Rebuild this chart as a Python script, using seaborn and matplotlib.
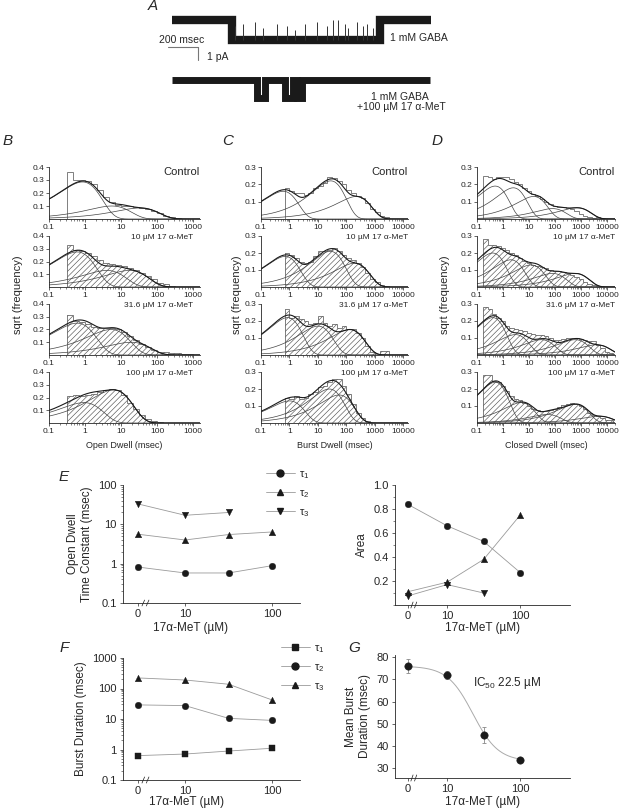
"""
Single-channel figure: example traces (A), dwell-time histograms (B-D)
and time constants / areas / burst duration vs 17a-MeT (E-G).
"""

import numpy as np
import pandas as pd
import matplotlib
matplotlib.use("Agg")
import matplotlib.pyplot as plt
import seaborn as sns
from matplotlib.lines import Line2D
from matplotlib.ticker import FixedLocator, LogLocator, NullFormatter, MultipleLocator

sns.set_theme(style="ticks")
plt.rcParams["font.family"] = ["Liberation Sans", "DejaVu Sans"]
plt.rcParams["mathtext.default"] = "regular"
plt.rcParams["hatch.linewidth"] = 0.45
plt.rcParams["axes.linewidth"] = 0.6

W, H = 620, 809

# ---- A: example traces (event times in msec, levels in pA) ----
TRACE1_EDGES = [0, 400, 1387, 1727]
TRACE1_LEVELS = [0.0, -1.5, 0.0]
FLICKER_T = [420, 473, 553, 607, 700, 767, 820, 887, 967, 1033,
             1073, 1107, 1153, 1173, 1233, 1273, 1300, 1340]
FLICKER_FRAC = [0.7, 0.8, 0.9, 0.6, 0.8, 0.7, 0.5, 0.8, 0.9, 0.7,
                1.0, 1.0, 0.8, 0.6, 0.9, 0.7, 0.8, 0.6]
TRACE2_EDGES = [0, 567, 620, 753, 807, 833, 867, 1720]
TRACE2_LEVELS = [0.0, -1.4, 0.0, -1.4, 0.0, -1.4, 0.0]

ROW_LABELS = ["Control", "10 µM 17 α-MeT", "31.6 µM 17 α-MeT", "100 µM 17 α-MeT"]

# ---- B: open dwell histograms (sqrt frequency per log bin) ----
OPEN_HIST = [
    [0.36, 0.30, 0.30, 0.29, 0.27, 0.22, 0.17, 0.13, 0.11, 0.10, 0.10,
     0.09, 0.085, 0.08, 0.065, 0.045, 0.025, 0.012, 0.005, 0.0, 0.0],
    [0.33, 0.29, 0.28, 0.27, 0.24, 0.21, 0.19, 0.18, 0.17, 0.165, 0.15,
     0.13, 0.11, 0.085, 0.06, 0.035, 0.02, 0.01, 0.0, 0.0, 0.0],
    [0.31, 0.27, 0.26, 0.24, 0.22, 0.21, 0.21, 0.21, 0.20, 0.18, 0.15,
     0.12, 0.09, 0.06, 0.04, 0.025, 0.02, 0.015, 0.012, 0.01, 0.01],
    [0.21, 0.22, 0.21, 0.22, 0.23, 0.245, 0.255, 0.265, 0.26, 0.22, 0.16,
     0.11, 0.065, 0.035, 0.015, 0.005, 0.0, 0.0, 0.0, 0.0, 0.0],
]
OPEN_TAU = [[0.85, 5.5, 33], [0.6, 4.0, 17], [0.6, 5.2, 19], [0.93, 6.2]]
OPEN_AMP = [[0.285, 0.10, 0.085], [0.275, 0.13, 0.13], [0.25, 0.20, 0.10], [0.16, 0.26]]

# ---- C: burst dwell histograms ----
BURST_HIST = [
    [0.18, 0.16, 0.15, 0.15, 0.14, 0.15, 0.18, 0.19, 0.21, 0.24, 0.235, 0.22,
     0.20, 0.17, 0.15, 0.13, 0.12, 0.09, 0.06, 0.04, 0.02, 0.01, 0.0, 0.0, 0.0],
    [0.20, 0.19, 0.17, 0.15, 0.14, 0.15, 0.18, 0.21, 0.21, 0.22, 0.23, 0.21,
     0.19, 0.17, 0.16, 0.14, 0.12, 0.08, 0.05, 0.03, 0.01, 0.005, 0.0, 0.0, 0.0],
    [0.27, 0.22, 0.23, 0.21, 0.20, 0.18, 0.19, 0.23, 0.19, 0.17, 0.18, 0.16,
     0.17, 0.15, 0.15, 0.13, 0.10, 0.05, 0.02, 0.0, 0.025, 0.025, 0.0, 0.0, 0.0],
    [0.15, 0.14, 0.16, 0.14, 0.15, 0.17, 0.18, 0.21, 0.22, 0.24, 0.26, 0.26,
     0.22, 0.17, 0.11, 0.06, 0.03, 0.01, 0.0, 0.0, 0.0, 0.0, 0.0, 0.0, 0.0],
]
BURST_TAU = [[0.6, 28, 220], [0.7, 27, 190], [0.85, 10, 130], [1.0, 25, 55]]
BURST_AMP = [[0.16, 0.22, 0.13], [0.18, 0.21, 0.14], [0.22, 0.17, 0.15], [0.13, 0.20, 0.165]]

# ---- D: closed dwell histograms ----
CLOSED_HIST = [
    [0.25, 0.24, 0.23, 0.24, 0.245, 0.24, 0.23, 0.215, 0.20, 0.18, 0.16, 0.145,
     0.13, 0.115, 0.10, 0.085, 0.075, 0.07, 0.07, 0.065, 0.06, 0.045, 0.03,
     0.02, 0.01, 0.005, 0.01, 0.005, 0.0, 0.0],
    [0.28, 0.25, 0.245, 0.24, 0.23, 0.22, 0.20, 0.19, 0.17, 0.155, 0.14, 0.13,
     0.125, 0.12, 0.11, 0.10, 0.095, 0.095, 0.09, 0.08, 0.07, 0.06, 0.045,
     0.03, 0.02, 0.01, 0.005, 0.0, 0.0, 0.0],
    [0.28, 0.27, 0.24, 0.22, 0.20, 0.17, 0.16, 0.15, 0.145, 0.14, 0.13, 0.125,
     0.12, 0.12, 0.11, 0.10, 0.09, 0.09, 0.095, 0.10, 0.10, 0.10, 0.095,
     0.09, 0.085, 0.08, 0.06, 0.04, 0.02, 0.01],
    [0.28, 0.28, 0.25, 0.24, 0.22, 0.19, 0.16, 0.14, 0.135, 0.12, 0.10, 0.085,
     0.075, 0.07, 0.07, 0.075, 0.085, 0.095, 0.105, 0.11, 0.115, 0.11, 0.10,
     0.08, 0.06, 0.05, 0.04, 0.03, 0.02, 0.015],
]
CLOSED_TAU = [[0.5, 2.5, 15, 80, 700], [0.4, 2.0, 12, 80, 600],
              [0.4, 3.0, 30, 600, 4000], [0.5, 5.0, 50, 600, 5000]]
CLOSED_AMP = [[0.19, 0.18, 0.13, 0.06, 0.065], [0.20, 0.16, 0.13, 0.08, 0.08],
              [0.22, 0.12, 0.09, 0.09, 0.06], [0.24, 0.12, 0.05, 0.11, 0.04]]

# ---- E-G: summary vs concentration ----
CONC = [0, 10, 31.6, 100]
TAU1_OPEN = [0.82, 0.58, 0.58, 0.89]
TAU2_OPEN = [5.6, 4.0, 5.5, 6.4]
TAU3_OPEN = [33, 17, 20]
AREA1 = [0.84, 0.66, 0.53, 0.27]
AREA2 = [0.11, 0.19, 0.38, 0.75]
AREA3 = [0.075, 0.17, 0.10]
BURST_T1 = [0.63, 0.71, 0.89, 1.1]
BURST_T2 = [29, 27.5, 10.5, 9.0]
BURST_T3 = [222, 190, 138, 42]
MEAN_BURST = [76, 72, 45, 33.6]
MEAN_BURST_ERR = [3.0, 2.0, 3.5, 1.0]
IC50, HILL_N, TOP, BOTTOM = 22.5, 2.5, 76, 33

ZERO_POS = 0.46
CONC_POS = [np.log10(c) if c > 0 else ZERO_POS for c in CONC]
ROW_PX = [(167, 219), (236, 287), (304, 355), (372, 423)]
GRAY = "#6a6a6a"


def px_axes(fig, left, top, right, bottom):
    return fig.add_axes([left / W, 1 - bottom / H, (right - left) / W, (bottom - top) / H])


def fig_text(fig, x, y, s, **kw):
    fig.text(x / W, 1 - y / H, s, **kw)


def draw_traces(fig):
    ax = px_axes(fig, 160, 0, 460, 115)
    ax.set_xlim(-80, 1920)
    ax.set_ylim(-115 / 13, 0)
    ax.axis("off")
    base1, base2 = -20 / 13, -80 / 13
    ax.stairs(np.array(TRACE1_LEVELS) + base1, TRACE1_EDGES, baseline=None,
              color="k", lw=6.0)
    open1 = base1 + TRACE1_LEVELS[1]
    tops = [open1 + 1.5 * f for f in FLICKER_FRAC]
    ax.vlines(FLICKER_T, open1, tops, color="#333", lw=0.7)
    ax.stairs(np.array(TRACE2_LEVELS) + base2, TRACE2_EDGES, baseline=None,
              color="k", lw=5.0)
    # scale bar
    ax.plot([-27, 173, 173], [-47 / 13, -47 / 13, -60 / 13], color="#777", lw=0.8)
    ax.text(67, -40 / 13, "200 msec", ha="center", va="center", fontsize=7.5)
    ax.text(233, -57 / 13, "1 pA", ha="left", va="center", fontsize=7.5)
    ax.text(1453, -38 / 13, "1 mM GABA", ha="left", va="center", fontsize=7.5)
    ax.text(1520, -97 / 13, "1 mM GABA", ha="center", va="center", fontsize=7.5)
    ax.text(1530, -107 / 13, "+100 µM 17 α-MeT", ha="center", va="center", fontsize=7.5)


def draw_dwell_panel(fig, left, right, edges_log, hists, taus, amps, ymax,
                     xmax_log, tick_decades, label_x, xlabel):
    edges = 10 ** np.asarray(edges_log)
    t = np.logspace(-1, xmax_log, 400)
    for i, (top, bottom) in enumerate(ROW_PX):
        ax = px_axes(fig, left, top, right, bottom)
        ax.set_xscale("log")
        ax.set_xlim(0.1, 10 ** xmax_log)
        ax.set_ylim(0, ymax)
        vals = np.asarray(hists[i])
        if i > 0:
            ax.stairs(vals, edges, baseline=0, fill=True, hatch="//////",
                      facecolor="white", edgecolor="#555", linewidth=0)
        ax.stairs(vals, edges, baseline=0, color=GRAY, lw=0.6)
        comps = [h ** 2 * (t / tau) * np.exp(1 - t / tau) for tau, h in zip(taus[i], amps[i])]
        for c in comps:
            ax.plot(t, np.sqrt(c), color="#444", lw=0.5)
        ax.plot(t, np.sqrt(np.sum(comps, axis=0)), color="k", lw=0.8)

        sns.despine(ax=ax)
        ticks = [10.0 ** d for d in tick_decades]
        ax.xaxis.set_major_locator(FixedLocator(ticks))
        ax.set_xticklabels([("%g" % v) for v in ticks])
        ax.xaxis.set_minor_locator(LogLocator(base=10, subs=np.arange(2, 10)))
        ax.xaxis.set_minor_formatter(NullFormatter())
        yt = np.arange(1, int(round(ymax * 10)) + 1) / 10
        ax.set_yticks(yt)
        ax.set_yticklabels(["%.1f" % v for v in yt])
        ax.tick_params(labelsize=6, length=2, width=0.5, pad=1.5)
        ax.tick_params(which="minor", length=1.2, width=0.4)
        if i == 0:
            ax.text(1.0, 1.0, ROW_LABELS[0], transform=ax.transAxes,
                    ha="right", va="top", fontsize=8)
        else:
            ax.text(label_x, 1.03, ROW_LABELS[i], transform=ax.transAxes,
                    ha="right", va="top", fontsize=6)
    fig_text(fig, (left + right) / 2, 446, xlabel, ha="center", va="center", fontsize=6.5)


def setup_conc_axis(ax, xlim, label_x, label_drop):
    ax.set_xlim(*xlim)
    ax.set_xticks([ZERO_POS, 1, 2])
    ax.set_xticklabels(["0", "10", "100"])
    ax.set_xlabel("17α-MeT (µM)", fontsize=8.5)
    height = ax.get_position().height * H
    ax.xaxis.set_label_coords(label_x, -label_drop / height)
    ax.tick_params(labelsize=8, length=2.5, width=0.5, pad=2)
    ax.tick_params(which="minor", length=1.5, width=0.4)
    sns.despine(ax=ax)
    tr = ax.get_xaxis_transform()
    for x0 in (0.52, 0.57):
        ax.plot([x0 - 0.015, x0 + 0.015], [-0.025, 0.025], transform=tr,
                color="k", lw=0.5, clip_on=False)


def draw_series(ax, series, markers, size=22):
    for vals, mk in zip(series, markers):
        df = pd.DataFrame({"pos": CONC_POS[:len(vals)], "val": vals})
        sns.lineplot(data=df, x="pos", y="val", ax=ax, color="#9a9a9a", lw=0.6)
        sns.scatterplot(data=df, x="pos", y="val", ax=ax, marker=mk, color="k",
                        s=size, edgecolor="k", linewidth=0.3, zorder=3)
    ax.set_xlabel("")
    ax.set_ylabel("")


def conc_legend(ax, fig, markers, x, y):
    handles = [Line2D([], [], color="#9a9a9a", lw=0.6, marker=m, mfc="k", mec="k", ms=5)
               for m in markers]
    labels = ["τ$_1$", "τ$_2$", "τ$_3$"]
    ax.legend(handles, labels, loc="upper left", bbox_to_anchor=(x / W, 1 - y / H),
              bbox_transform=fig.transFigure, frameon=False, fontsize=8,
              handlelength=2.6, handletextpad=0.4, labelspacing=0.65,
              borderpad=0, borderaxespad=0)


def main():
    fig = plt.figure(figsize=(W / 100, H / 100), dpi=100)

    draw_traces(fig)

    draw_dwell_panel(fig, 49, 200, -0.5 + np.arange(22) / 6, OPEN_HIST, OPEN_TAU,
                     OPEN_AMP, 0.4, 3.19, [-1, 0, 1, 2, 3], 0.955, "Open Dwell (msec)")
    draw_dwell_panel(fig, 261, 408, -1 / 6 + np.arange(26) / 6, BURST_HIST, BURST_TAU,
                     BURST_AMP, 0.3, 4.16, [-1, 0, 1, 2, 3, 4], 1.0, "Burst Dwell (msec)")
    draw_dwell_panel(fig, 477, 615, -0.75 + np.arange(31) / 6, CLOSED_HIST, CLOSED_TAU,
                     CLOSED_AMP, 0.3, 4.31, [-1, 0, 1, 2, 3, 4], 1.0, "Closed Dwell (msec)")
    for x in (18, 237, 445):
        fig_text(fig, x, 295, "sqrt (frequency)", rotation=90, ha="center",
                 va="center", fontsize=8)

    # E left: open dwell time constants
    ax = px_axes(fig, 123, 485, 300, 603)
    ax.set_yscale("log")
    draw_series(ax, [TAU1_OPEN, TAU2_OPEN, TAU3_OPEN], ["o", "^", "v"])
    ax.set_ylim(0.1, 100)
    ax.set_yticks([0.1, 1, 10, 100])
    ax.set_yticklabels(["0.1", "1", "10", "100"])
    ax.yaxis.set_minor_locator(LogLocator(base=10, subs=np.arange(2, 10)))
    ax.yaxis.set_minor_formatter(NullFormatter())
    setup_conc_axis(ax, (0.287, 2.32), 0.38, 19)
    ax.set_ylabel("Open Dwell\nTime Constant (msec)", fontsize=8.5, labelpad=4)
    conc_legend(ax, fig, ["o", "^", "v"], 266, 469)

    # E right: areas
    ax = px_axes(fig, 395, 485, 570, 605)
    draw_series(ax, [AREA1, AREA2, AREA3], ["o", "^", "v"])
    ax.set_ylim(0, 1.0)
    ax.set_yticks([0.2, 0.4, 0.6, 0.8, 1.0])
    ax.set_yticklabels(["0.2", "0.4", "0.6", "0.8", "1.0"])
    ax.yaxis.set_minor_locator(MultipleLocator(0.1))
    setup_conc_axis(ax, (0.288, 2.68), 0.5, 17)
    ax.set_ylabel("Area", fontsize=8.5, labelpad=4)

    # F: burst duration time constants
    ax = px_axes(fig, 123, 658, 300, 780)
    ax.set_yscale("log")
    draw_series(ax, [BURST_T1, BURST_T2, BURST_T3], ["s", "o", "^"])
    ax.set_ylim(0.1, 1000)
    ax.set_yticks([0.1, 1, 10, 100, 1000])
    ax.set_yticklabels(["0.1", "1", "10", "100", "1000"])
    ax.yaxis.set_minor_locator(LogLocator(base=10, subs=np.arange(2, 10)))
    ax.yaxis.set_minor_formatter(NullFormatter())
    setup_conc_axis(ax, (0.287, 2.32), 0.36, 16)
    ax.set_ylabel("Burst Duration (msec)", fontsize=8.5, labelpad=4)
    conc_legend(ax, fig, ["s", "o", "^"], 281, 643)

    # G: mean burst duration with Hill fit
    ax = px_axes(fig, 395, 655, 570, 778)
    c_fit = np.logspace(ZERO_POS, 2, 200)
    fit = BOTTOM + (TOP - BOTTOM) / (1 + (c_fit / IC50) ** HILL_N)
    sns.lineplot(x=np.log10(c_fit), y=fit, ax=ax, color="#aaaaaa", lw=0.7)
    ax.errorbar(CONC_POS, MEAN_BURST, yerr=MEAN_BURST_ERR, fmt="none",
                ecolor="#888", elinewidth=0.6, capsize=1.5, capthick=0.6)
    df = pd.DataFrame({"pos": CONC_POS, "val": MEAN_BURST})
    sns.scatterplot(data=df, x="pos", y="val", ax=ax, color="k", s=28,
                    edgecolor="k", zorder=3)
    ax.set_ylim(25.5, 81)
    ax.set_yticks([30, 40, 50, 60, 70, 80])
    setup_conc_axis(ax, (0.288, 2.68), 0.5, 18)
    ax.set_ylabel("Mean Burst\nDuration (msec)", fontsize=8.5, labelpad=4)
    ax.text(1.82, 68.4, "IC$_{50}$ 22.5 µM", fontsize=8.5, ha="center", va="center")

    # panel letters
    for letter, x, y in [("A", 153, 6), ("B", 8, 141), ("C", 228, 141), ("D", 437, 141),
                         ("E", 64, 477), ("F", 64, 648), ("G", 354, 648)]:
        fig_text(fig, x, y, letter, ha="center", va="center", fontsize=11, style="italic")

    fig.savefig("out.png", dpi=100)
    plt.close(fig)


if __name__ == "__main__":
    main()
